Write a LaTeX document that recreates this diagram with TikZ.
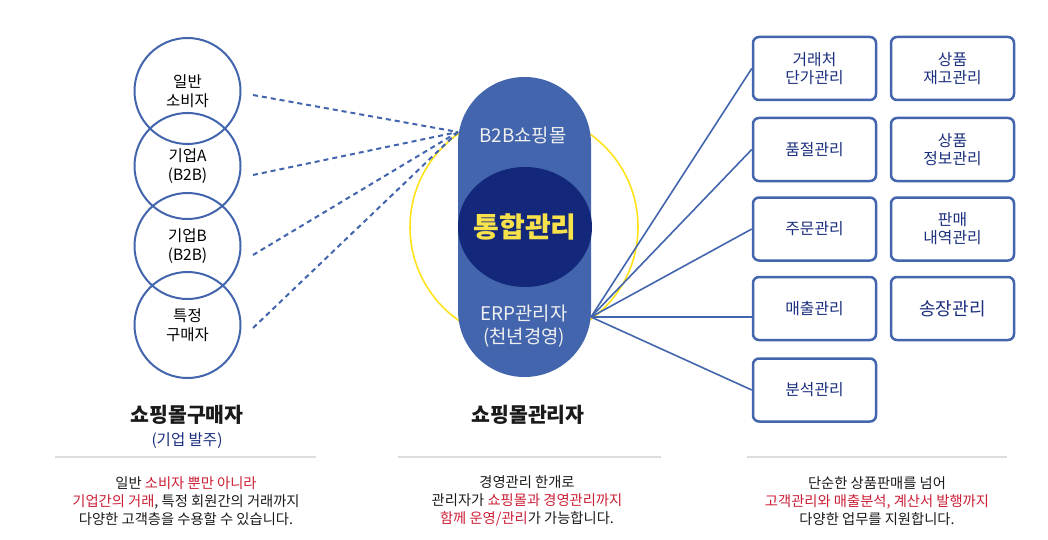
\documentclass[tikz,border=0pt]{standalone}
\usepackage{fontspec}
\setmainfont{Noto Sans CJK KR}
\usetikzlibrary{shapes.geometric,calc}
\definecolor{pillblue}{HTML}{4265AD}
\definecolor{corenavy}{HTML}{13287A}
\definecolor{ringyellow}{HTML}{FFE21A}
\definecolor{txtyellow}{HTML}{F7E24B}
\definecolor{boxnavy}{HTML}{1B2F7E}
\definecolor{redtxt}{HTML}{CC1F36}
\definecolor{bodytxt}{HTML}{1A1A1A}
\definecolor{rulegray}{HTML}{DDDDDD}
\newcommand{\rd}[1]{\textcolor{redtxt}{#1}}
\tikzset{
  buyer/.style={circle, draw=pillblue, line width=2pt, minimum size=106pt, inner sep=0pt, align=center, font=\fontsize{15.5}{18.5}\selectfont, text=black},
  dashlink/.style={draw=pillblue, line width=2pt, dash pattern=on 5pt off 4pt},
  solidlink/.style={draw=pillblue, line width=1.6pt},
  taskbox/.style={rectangle, rounded corners=6pt, draw=pillblue, line width=2.5pt, minimum width=123pt, minimum height=63pt, align=center, text=boxnavy, font=\fontsize{15.8}{18}\selectfont, fill=white},
  pilltext/.style={text=white!94!black, align=center, font=\fontsize{18.8}{23}\selectfont},
  title/.style={font=\bfseries\fontsize{20.5}{24}\selectfont, text=bodytxt},
  body/.style={align=center, font=\fontsize{14.3}{18}\selectfont, text=bodytxt},
  hrule/.style={draw=rulegray, line width=1.3pt}
}
\begin{document}
\begin{tikzpicture}[x=1pt,y=-1pt]
\path[use as bounding box] (0,0) rectangle (1048,540);

% yellow ring
\node[circle, draw=ringyellow, line width=1.6pt, minimum size=228pt, inner sep=0pt] (ring) at (524,227) {};

% left circles
\node[buyer] (c1) at (187.5,91) {일반\\소비자};
\node[buyer] (c2) at (187.5,166) {기업A\\(B2B)};
\node[buyer] (c3) at (187.5,246) {기업B\\(B2B)};
\node[buyer] (c4) at (187.5,325) {특정\\구매자};

% dashed link ends
\coordinate (s1) at (253,95);
\coordinate (s2) at (253,175);
\coordinate (s3) at (253,255);
\coordinate (s4) at (253,328);
\coordinate (hub) at (458,132);
\foreach \s in {s1,s2,s3,s4} \draw[dashlink] (\s) -- (hub);

% right boxes
\node[taskbox] (b1) at (814.5,68.5) {거래처\\단가관리};
\node[taskbox] (b2) at (814.5,149.5) {품절관리};
\node[taskbox] (b3) at (814.5,229) {주문관리};
\node[taskbox] (b4) at (814.5,308.5) {매출관리};
\node[taskbox] (b5) at (814.5,390) {분석관리};
\node[taskbox] (d1) at (952.5,68.5) {상품\\재고관리};
\node[taskbox] (d2) at (952.5,149.5) {상품\\정보관리};
\node[taskbox] (d3) at (952.5,229) {판매\\내역관리};
\node[taskbox, font=\fontsize{18}{20}\selectfont] (d4) at (952.5,308.5) {송장관리};

\coordinate (erp) at (591,317);
\draw[solidlink] (erp) -- (b1.west);
\draw[solidlink] (erp) -- (b2.west);
\draw[solidlink] (erp) -- (b3.west);
\draw[solidlink] (erp) -- (erp -| b4.west);
\draw[solidlink] (erp) -- (b5.west);

% pill
\node[rectangle, fill=pillblue, rounded corners=66.4pt, minimum width=133pt, minimum height=300pt, inner sep=0pt] (pill) at (524.5,227) {};
\node[ellipse, fill=corenavy, minimum width=134pt, minimum height=120pt, inner sep=0pt] (core) at (525,227) {};
\node[text=txtyellow, font=\bfseries\fontsize{28}{32}\selectfont, inner sep=0pt] (coretext) at (core.center) {통합관리};
\node[pilltext] (mall) at (523,135) {B2B쇼핑몰};
\node[pilltext] (erptext) at (524,326) {ERP관리자\\(천년경영)};

% bottom titles
\node[title] (t1) at (187,415) {쇼핑몰구매자};
\node[font=\fontsize{15.5}{17}\selectfont, text=boxnavy] (t1s) at (187,441) {(기업 발주)};
\node[title] (t2) at (528,415) {쇼핑몰관리자};

% rules
\draw[hrule] (55,457) -- (316,457);
\draw[hrule] (398,457) -- (661,457);
\draw[hrule] (747,457) -- (1007,457);

% bodies
\node[body] (p1) at (186,501) {일반 \rd{소비자 뿐만 아니라}\\\rd{기업간의 거래}, 특정 회원간의 거래까지\\다양한 고객층을 수용할 수 있습니다.};
\node[body] (p2) at (527,501) {경영관리 한개로\\관리자가 \rd{쇼핑몰과 경영관리까지}\\\rd{함께 운영/관리}가 가능합니다.};
\node[body] (p3) at (877,501) {단순한 상품판매를 넘어\\\rd{고객관리와 매출분석, 계산서 발행까지}\\다양한 업무를 지원합니다.};
\end{tikzpicture}
\end{document}
